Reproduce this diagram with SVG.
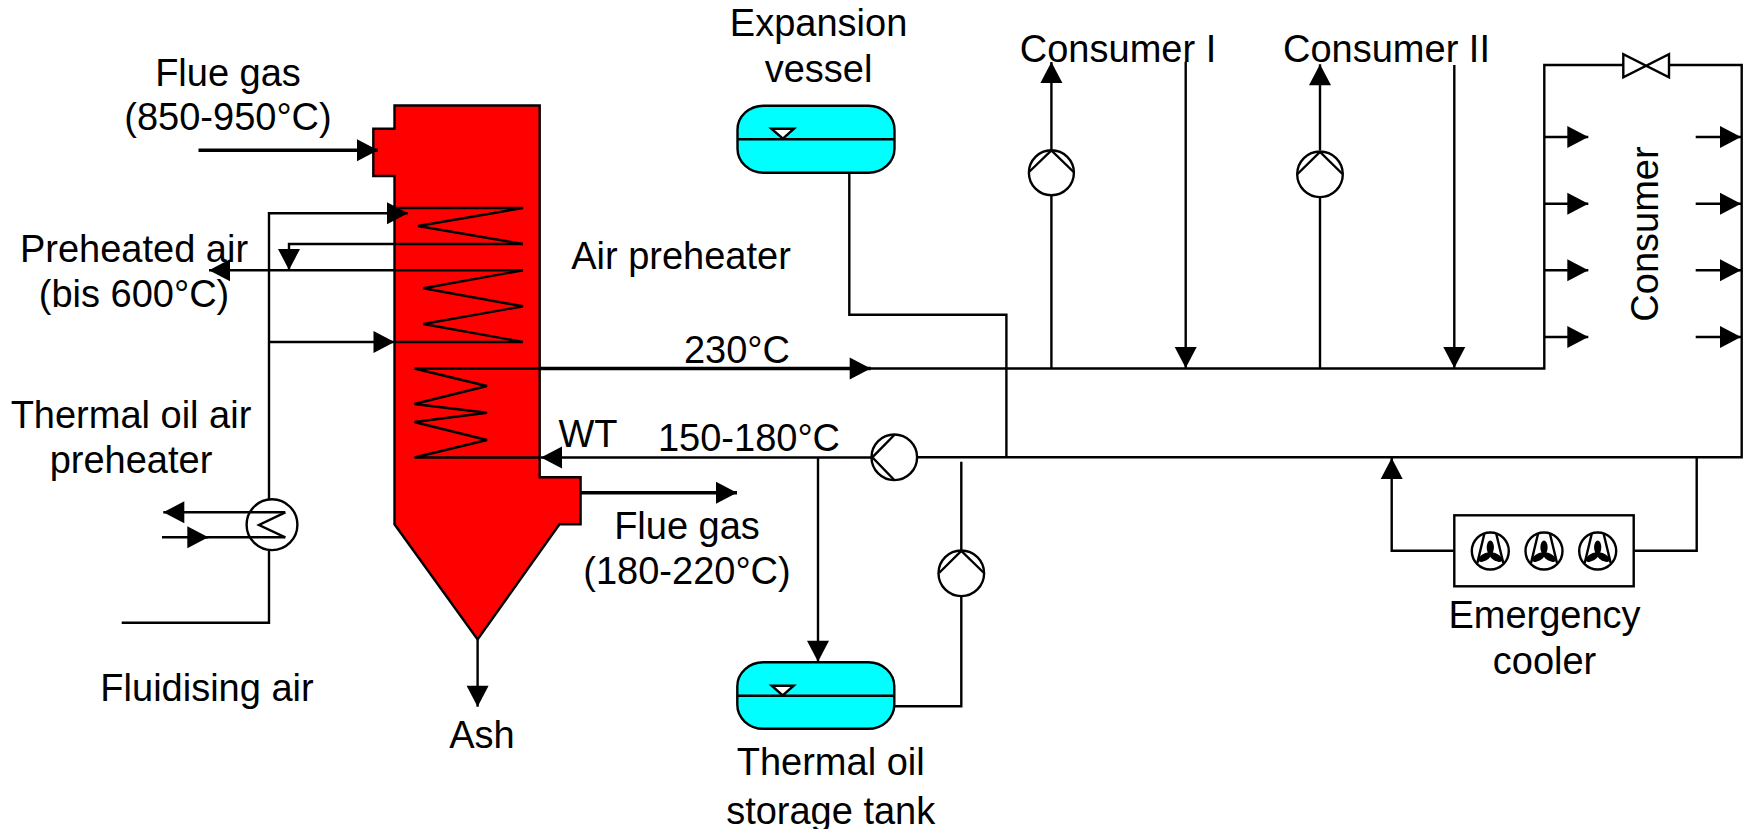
<svg xmlns="http://www.w3.org/2000/svg" xmlns:xlink="http://www.w3.org/1999/xlink" width="1746" height="829" viewBox="0 0 1746 829">
<style>
.l{fill:none;stroke:#000;stroke-width:2.4;stroke-linejoin:miter}
.a{marker-end:url(#ah)}
.t{stroke-width:3.6}
.s{fill:#000;stroke:none}
.v{fill:#0ff;stroke:#000;stroke-width:2.4}
.w{fill:#fff;stroke:#000;stroke-width:2.4}
text{font-family:"Liberation Sans",Arial,sans-serif;font-size:38px;fill:#000;text-anchor:middle}
</style>
<defs>
<marker id="ah" markerUnits="userSpaceOnUse" markerWidth="22" markerHeight="22" refX="21" refY="11" orient="auto" overflow="visible"><path d="M0,0L21,11L0,22Z" fill="#000"/></marker>
<g id="fan">
<circle r="18.5" class="w"/>
<path class="l" d="M-13,12L-6,-17M13,12L6,-17"/>
<g class="s" transform="translate(0,3)">
<ellipse cx="0" cy="-6.5" rx="3.6" ry="7"/>
<ellipse cx="0" cy="-6.5" rx="3.6" ry="7" transform="rotate(120)"/>
<ellipse cx="0" cy="-6.5" rx="3.6" ry="7" transform="rotate(240)"/>
</g>
</g>
</defs>
<rect width="1746" height="829" fill="#fff"/>

<g id="boiler">
<path fill="#f00" stroke="#000" stroke-width="2.4" d="M394.5,105.5H539.7V477.3H580.6V524.3H559.5L477.6,639.5L394.5,524.3V176H373.3V128.7H394.5Z"/>
<path class="l" d="M394.5,208H523L418,226L523,244"/>
<path class="l" d="M523,270.3L423.5,288.3L523,306.3L423.5,324L523,342H394.5"/>
<path class="l" d="M539.7,368.5H414.4L487,386L414.4,404L487,412.7L414.4,422L487,440L414.4,457.5H539.7"/>
</g>

<g id="connectors">
<path class="l t a" d="M198.5,150.3H378"/>
<path class="l a" d="M523,244H289V270"/>
<path class="l a" d="M269,342V213.3H408"/>
<path class="l a" d="M523,270.3H209"/>
<path class="l a" d="M269,342H394.5"/>
<path class="l" d="M121.7,622.7H269V550M269,499.5V342"/>
<path class="l a" d="M477.6,639.5V706.7"/>
<path class="l t a" d="M580.6,492.7H737"/>
<path class="l t a" d="M539.7,368.5H870.7"/>
<path class="l" d="M870,368.5H1544.3V65H1623.3M1669,65H1741.7V457.3H917"/>
<path class="l a" d="M871,457.5H541"/>
<path class="l" d="M849.3,172.7V314.7H1006.4V457.3"/>
<path class="l a" d="M1051.4,195V62"/>
<path class="l" d="M1051.4,368.5V195"/>
<path class="l a" d="M1185.7,61.7V368"/>
<path class="l a" d="M1320,150V64.3"/>
<path class="l" d="M1320,368.5V197"/>
<path class="l a" d="M1454.3,65V368"/>
<path class="l a" d="M1544.3,137H1588.3"/>
<path class="l a" d="M1544.3,203.7H1588.3"/>
<path class="l a" d="M1544.3,270.3H1588.3"/>
<path class="l a" d="M1544.3,337H1588.3"/>
<path class="l a" d="M1695.7,137H1741"/>
<path class="l a" d="M1695.7,203.7H1741"/>
<path class="l a" d="M1695.7,270.3H1741"/>
<path class="l a" d="M1695.7,337H1741"/>
<path class="l a" d="M818,457.3V661.7"/>
<path class="l" d="M894.3,706.3H961.3V596M961.3,551V461.7"/>
<path class="l a" d="M1454.3,550.7H1391.7V458"/>
<path class="l" d="M1633.7,550.7H1696.7V457.3"/>
<path class="l a" d="M285.3,512.3H163.3"/>
<path class="l a" d="M162,537.3H208.3"/>
<path class="l" d="M205,537.3H285.3"/>
</g>

<g id="air-heat-exchanger">
<circle cx="272" cy="524.7" r="25.4" fill="none" stroke="#000" stroke-width="2.4"/>
<path class="l" d="M285.3,512.3L259,525L285.3,537.3"/>
</g>
<g id="expansion-vessel">
<rect x="737.5" y="105.7" width="157" height="67" rx="26" ry="24" class="v"/>
<path class="l" d="M737.5,139.3H894.5"/>
<path class="w" d="M771.4,128.7H794L782.9,138.7Z"/>
</g>
<g id="storage-tank">
<rect x="737.3" y="662.3" width="157" height="66.5" rx="26" ry="24" class="v"/>
<path class="l" d="M737.3,695.7H894.3"/>
<path class="w" d="M771.7,685.7H793.7L782.7,695.5Z"/>
</g>
<g id="pump-1"><circle cx="1051.4" cy="172.7" r="22.5" class="w"/><path class="l" d="M1029,172L1051.4,150.5L1073.6,172"/></g>
<g id="pump-2"><circle cx="1320" cy="174.3" r="22.8" class="w"/><path class="l" d="M1297.5,174L1320,152L1342.5,174"/></g>
<g id="pump-3"><circle cx="961.3" cy="573.3" r="22.8" class="w"/><path class="l" d="M939,573L961.3,551L984,573"/></g>
<g id="pump-4"><circle cx="894.3" cy="457.3" r="22.8" class="w"/><path class="l" d="M894.3,435L872.3,457.3L894.3,480"/></g>
<g id="valve"><path class="w" d="M1623.3,54.3V77.3L1669,54.3V77.3Z"/></g>
<g id="emergency-cooler">
<rect x="1454.3" y="515.3" width="179.4" height="71" class="w"/>
<use xlink:href="#fan" href="#fan" x="1490.3" y="551"/>
<use xlink:href="#fan" href="#fan" x="1544" y="551"/>
<use xlink:href="#fan" href="#fan" x="1597.7" y="551"/>
</g>

<g id="labels">
<text x="228" y="86">Flue gas</text>
<text x="228" y="130">(850-950°C)</text>
<text x="134" y="262">Preheated air</text>
<text x="134" y="306.7">(bis 600°C)</text>
<text x="131" y="428.3">Thermal oil air</text>
<text x="131" y="473">preheater</text>
<text x="681" y="269">Air preheater</text>
<text x="737" y="362.7">230°C</text>
<text x="588" y="446.7">WT</text>
<text x="749" y="450.7">150-180°C</text>
<text x="687" y="539.3">Flue gas</text>
<text x="687" y="584">(180-220°C)</text>
<text x="207" y="700.7">Fluidising air</text>
<text x="482" y="748">Ash</text>
<text x="818.6" y="36">Expansion</text>
<text x="818.6" y="81.7">vessel</text>
<text x="1118" y="61.7">Consumer I</text>
<text x="1386.5" y="61.7">Consumer II</text>
<text x="830.7" y="775">Thermal oil</text>
<text x="830.7" y="824">storage tank</text>
<text x="1544.5" y="628">Emergency</text>
<text x="1544.5" y="674">cooler</text>
<text transform="translate(1658,234) rotate(-90)">Consumer</text>
</g>
</svg>
